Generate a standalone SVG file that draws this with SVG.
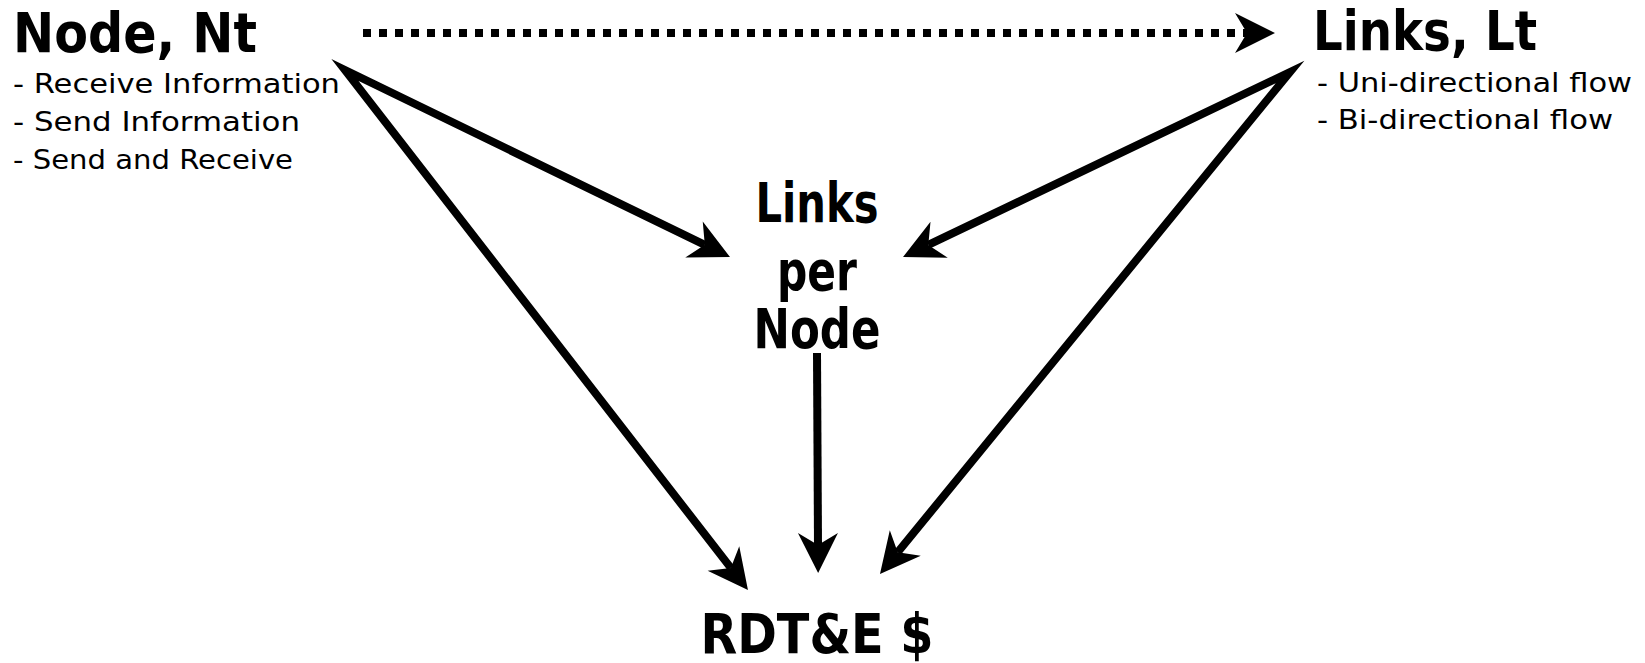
<svg xmlns="http://www.w3.org/2000/svg" width="1645" height="663" viewBox="0 0 1645 663">
  <style>
    .title { font-family: "DejaVu Sans", "Liberation Sans", sans-serif; font-weight: bold; font-size: 55px; fill: #000; }
    .item { font-family: "DejaVu Sans", "Liberation Sans", sans-serif; font-size: 26px; fill: #000; }
    .conn { fill: none; stroke: #000; stroke-width: 8; stroke-linejoin: miter; stroke-miterlimit: 20; }
    .dotted { stroke-dasharray: 8 8; }
  </style>
  <defs>
    <marker id="stealth" markerUnits="userSpaceOnUse" viewBox="-14 -22 44 44" markerWidth="44" markerHeight="44" refX="0" refY="0" orient="auto-start-reverse">
      <path d="M28,0 L-12,-20 L0,0 L-12,20 Z" fill="#000"/>
    </marker>
  </defs>
  <rect width="1645" height="663" fill="#fff"/>

  <g id="connectors">
    <path class="conn dotted" d="M363,33 L1247,33" marker-end="url(#stealth)"/>
    <path class="conn" d="M730.8,567.9 L345,70 L704.8,244.8" marker-start="url(#stealth)" marker-end="url(#stealth)"/>
    <path class="conn" d="M897.7,552.3 L1290,72 L928.3,244.9" marker-start="url(#stealth)" marker-end="url(#stealth)"/>
    <path class="conn" d="M817,353 L818,545" marker-end="url(#stealth)"/>
  </g>

  <g id="node-nt">
    <text class="title" x="13" y="52" textLength="244" lengthAdjust="spacingAndGlyphs">Node, Nt</text>
    <text class="item" x="13" y="93" textLength="327" lengthAdjust="spacingAndGlyphs">- Receive Information</text>
    <text class="item" x="13" y="131" textLength="287" lengthAdjust="spacingAndGlyphs">- Send Information</text>
    <text class="item" x="13" y="169" textLength="280" lengthAdjust="spacingAndGlyphs">- Send and Receive</text>
  </g>

  <g id="links-lt">
    <text class="title" x="1313" y="50" textLength="224" lengthAdjust="spacingAndGlyphs">Links, Lt</text>
    <text class="item" x="1317" y="92" textLength="315" lengthAdjust="spacingAndGlyphs">- Uni-directional flow</text>
    <text class="item" x="1317" y="129" textLength="296" lengthAdjust="spacingAndGlyphs">- Bi-directional flow</text>
  </g>

  <g id="links-per-node">
    <text class="title" x="817" y="222" text-anchor="middle" textLength="123" lengthAdjust="spacingAndGlyphs">Links</text>
    <text class="title" x="817" y="290" text-anchor="middle" textLength="80" lengthAdjust="spacingAndGlyphs">per</text>
    <text class="title" x="817" y="348" text-anchor="middle" textLength="127" lengthAdjust="spacingAndGlyphs">Node</text>
  </g>

  <g id="rdte">
    <text class="title" x="817" y="653" text-anchor="middle" textLength="233" lengthAdjust="spacingAndGlyphs">RDT&amp;E $</text>
  </g>
</svg>
